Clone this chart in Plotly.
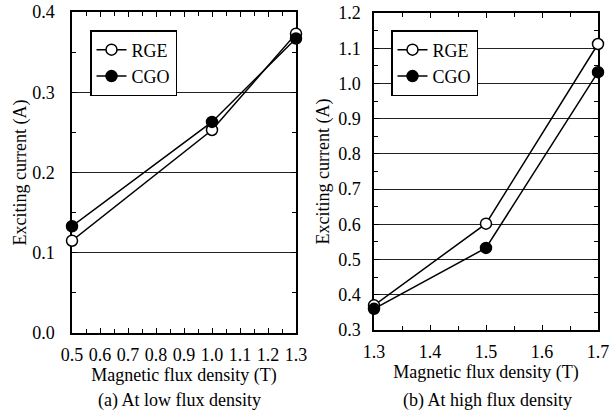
import plotly.graph_objects as go

# Panel (a) low flux density
x_low = [0.5, 1.0, 1.3]
rge_low = [0.115, 0.253, 0.373]
cgo_low = [0.133, 0.263, 0.367]

# Panel (b) high flux density
x_high = [1.3, 1.5, 1.7]
rge_high = [0.370, 0.602, 1.112]
cgo_high = [0.360, 0.533, 1.032]

FONT = "Liberation Serif"
FS = 18

fig = go.Figure()

def add(x, y, name, filled, xa, ya, legend):
    fig.add_trace(go.Scatter(
        x=x, y=y, name=name, mode="lines+markers",
        xaxis=xa, yaxis=ya, legend=legend, cliponaxis=False,
        line=dict(color="black", width=1.5),
        marker=dict(size=11, color="black" if filled else "white",
                    line=dict(color="black", width=1.5)),
    ))

add(x_low, rge_low, "RGE", False, "x", "y", "legend")
add(x_low, cgo_low, "CGO", True, "x", "y", "legend")
add(x_high, rge_high, "RGE", False, "x2", "y2", "legend2")
add(x_high, cgo_high, "CGO", True, "x2", "y2", "legend2")

def xax(domain, rng, anchor):
    return dict(domain=domain, range=rng, anchor=anchor, dtick=0.1, tick0=rng[0],
                tickformat=".1f", showline=True, linecolor="black", linewidth=1.5,
                mirror="ticks", ticks="inside", ticklen=5, tickcolor="black",
                minor=dict(dtick=0.05, ticks="inside", ticklen=4, tickcolor="black"),
                showgrid=False, zeroline=False, layer="below traces", automargin=False,
                ticklabelstandoff=5,
                tickfont=dict(family=FONT, size=FS, color="black"),
                title=dict(text="Magnetic flux density (T)",
                           font=dict(family=FONT, size=FS, color="black"), standoff=4))

def yax(domain, rng, anchor, pad, standoff):
    return dict(domain=domain, range=rng, anchor=anchor, dtick=0.1, tick0=0,
                tickformat=".1f", showline=True, linecolor="black", linewidth=1.5,
                mirror="ticks", ticks="inside", ticklen=5, tickcolor="black",
                minor=dict(dtick=0.05, ticks="inside", ticklen=4, tickcolor="black"),
                showgrid=True, gridcolor="#222", gridwidth=1,
                zeroline=False, layer="below traces", automargin=False,
                ticklabelstandoff=pad,
                tickfont=dict(family=FONT, size=FS, color="black"),
                title=dict(text="Exciting current (A)",
                           font=dict(family=FONT, size=FS, color="black"), standoff=standoff))

legend_style = dict(bgcolor="white", bordercolor="black", borderwidth=1.5,
                    font=dict(family=FONT, size=FS, color="black"),
                    xanchor="left", yanchor="top", tracegroupgap=0,
                    xref="paper", yref="paper")

fig.update_layout(
    width=616, height=415,
    margin=dict(l=0, r=0, t=0, b=0, autoexpand=False),
    paper_bgcolor="white", plot_bgcolor="white",
    font=dict(family=FONT, size=FS, color="black"),
    xaxis=xax([72/616, 296/616], [0.5, 1.3], "y"),
    yaxis=yax([1-333/415, 1-12/415], [0.0, 0.4], "x", 12, 1),
    xaxis2=xax([374/616, 598/616], [1.3, 1.7], "y2"),
    yaxis2=yax([1-330/415, 1-13/415], [0.3, 1.2], "x2", 8, 4),
    legend=dict(x=90/616, y=1-30/415, **legend_style),
    legend2=dict(x=391/616, y=1-30/415, **legend_style),
    annotations=[
        dict(text="(a) At low flux density", x=179/616, y=1-400/415, xref="paper", yref="paper",
             xanchor="center", yanchor="middle",
             showarrow=False, font=dict(family=FONT, size=FS, color="black")),
        dict(text="(b) At high flux density", x=487/616, y=1-400/415, xref="paper", yref="paper",
             xanchor="center", yanchor="middle",
             showarrow=False, font=dict(family=FONT, size=FS, color="black")),
    ],
)

fig.write_html("out.html", config={"displayModeBar": False},
               post_script="document.body.style.margin='0';document.body.style.overflow='hidden';")
